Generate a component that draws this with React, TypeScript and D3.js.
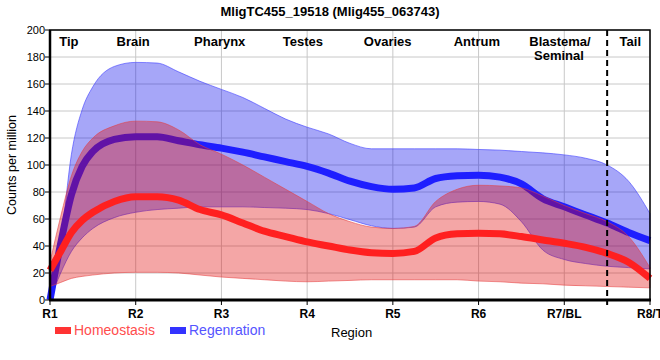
import React from "react";
import * as d3 from "d3";

// positions along the body, in region units (0 = R1 ... 7 = R8/T)
const positions = [0, 0.125, 0.25, 0.375, 0.5, 0.75, 1, 1.25, 1.5, 1.75, 2, 2.25, 2.5, 2.75, 3, 3.25, 3.5, 3.75, 4, 4.25, 4.5, 4.75, 5, 5.25, 5.5, 5.75, 6, 6.25, 6.5, 6.75, 7];

const homeoMean = [22, 36, 50, 59, 65, 73, 76.5, 76.5, 74, 67, 63, 57, 51, 47, 43, 40, 37, 35, 34.5, 36, 46, 49, 49.5, 49, 47, 44.5, 42, 39, 34.5, 28, 16];
const homeoUpper = [28, 62, 92, 110, 120, 129, 132.5, 132, 126, 115, 108, 100, 91, 82, 73, 64, 58, 54, 53, 54.5, 73, 82, 85, 84.5, 83, 77, 70, 64, 58, 47, 24];
const homeoLower = [10, 13, 16, 17.5, 18.5, 20, 20.5, 20.5, 20, 18.5, 17, 16, 15, 14, 13.5, 14, 14.5, 15, 15, 15, 15, 15, 14, 13.5, 12.5, 12, 11, 10.5, 10, 9.5, 9];

const regenMean = [0, 42, 78, 99, 110, 119, 121, 121, 118, 115, 112.5, 109.5, 106, 102.5, 99, 94, 88, 84, 82, 83, 90, 92, 92.5, 91, 86, 75, 69, 63, 57, 50, 44];
const regenUpper = [0, 42, 108, 141, 158, 173, 176, 175.5, 169, 162, 156, 150, 142, 134, 128, 123, 116, 112, 112, 112, 112, 112, 111.5, 111, 110, 109, 107.5, 105, 100, 88, 64];
const regenLower = [0, 20, 36, 46, 53, 61, 65, 67, 68, 69, 69, 69, 68.5, 68, 67, 64, 59.5, 55, 53, 54, 69, 72.5, 73, 71, 58, 37, 30, 27, 25, 24, 23];

const xTicks = ["R1", "R2", "R3", "R4", "R5", "R6", "R7/BL", "R8/T"];
const yTicks = [0, 20, 40, 60, 80, 100, 120, 140, 160, 180, 200];
const regionNames = ["Tip", "Brain", "Pharynx", "Testes", "Ovaries", "Antrum", "Blastema/", "Tail"];
const regionPos = [0.22, 0.97, 1.98, 2.95, 3.94, 4.98, 5.95, 6.77];
const tailBoundary = 6.5;

const W = 660, H = 360;
const margin = { top: 30, right: 10, bottom: 60, left: 50 };
const FONT = "Arial, 'Liberation Sans', sans-serif";

export default function App() {
  const x = d3.scaleLinear().domain([0, 7]).range([margin.left, W - margin.right]);
  const y = d3.scaleLinear().domain([0, 200]).range([H - margin.bottom, margin.top]);

  const band = (lo: number[], hi: number[]) =>
    d3.area<number>()
      .x((d) => x(d))
      .y0((_, i) => y(lo[i]))
      .y1((_, i) => y(hi[i]))
      .curve(d3.curveMonotoneX)(positions) || "";

  const line = (vals: number[]) =>
    d3.line<number>()
      .x((d) => x(d))
      .y((_, i) => y(vals[i]))
      .curve(d3.curveMonotoneX)(positions) || "";

  const x0 = x(0), x1 = x(7), y0 = y(0), y1 = y(200);

  return (
    <svg width={W} height={H} style={{ position: "absolute", left: 0, top: 0, background: "#fff" }} fontFamily={FONT}>
      <text x={330} y={16} textAnchor="middle" fontSize={13} fontWeight="bold">MligTC455_19518 (Mlig455_063743)</text>

      {/* grid */}
      {yTicks.map((t) => (
        <line key={"gy" + t} x1={x0} x2={x1} y1={y(t)} y2={y(t)} stroke="#c8c8c8" strokeWidth={1} />
      ))}
      {xTicks.map((t, i) => (
        <line key={"gx" + t} x1={x(i)} x2={x(i)} y1={y0} y2={y1} stroke="#c8c8c8" strokeWidth={1} />
      ))}

      {/* regeneration band + mean */}
      <path d={band(regenLower, regenUpper)} fill="rgba(0,0,235,0.35)" stroke="rgba(60,60,255,0.6)" strokeWidth={1} />
      <path d={line(regenMean)} fill="none" stroke="#1e1eff" strokeWidth={7} />

      {/* homeostasis band + mean */}
      <path d={band(homeoLower, homeoUpper)} fill="rgba(224,0,0,0.35)" stroke="rgba(230,60,60,0.55)" strokeWidth={1} />
      <path d={line(homeoMean)} fill="none" stroke="#ff2020" strokeWidth={7} />

      {/* tail boundary */}
      <line x1={x(tailBoundary)} x2={x(tailBoundary)} y1={y1} y2={y0 + 5} stroke="#000" strokeWidth={2} strokeDasharray="6,4" />

      {/* frame */}
      <rect x={x0} y={y1} width={x1 - x0} height={y0 - y1} fill="none" stroke="#000" strokeWidth={1.5} />
      <line x1={x0} x2={x0} y1={y1} y2={y0} stroke="#000" strokeWidth={2.5} />
      <line x1={x0 - 1} x2={x1 + 1} y1={y0} y2={y0} stroke="#000" strokeWidth={3} />

      {/* y axis */}
      {yTicks.map((t) => (
        <g key={"ty" + t}>
          <line x1={x0 - 5} x2={x0} y1={y(t)} y2={y(t)} stroke="#000" strokeWidth={1} />
          <text x={x0 - 5} y={y(t)} dy="0.35em" textAnchor="end" fontSize={11}>{t}</text>
        </g>
      ))}
      <text transform={`translate(16,${(y0 + y1) / 2}) rotate(-90)`} textAnchor="middle" fontSize={12.5}>Counts per million</text>

      {/* x axis */}
      {xTicks.map((t, i) => (
        <g key={"tx" + t}>
          <line x1={x(i)} x2={x(i)} y1={y0} y2={y0 + 5} stroke="#000" strokeWidth={1} />
          <text x={x(i)} y={y0 + 18} textAnchor="middle" fontSize={12} fontWeight="bold">{t}</text>
        </g>
      ))}

      {/* region names */}
      {regionNames.map((r, i) => (
        <text key={r} x={x(regionPos[i])} y={46} textAnchor="middle" fontSize={13} fontWeight="bold">{r}</text>
      ))}
      <text x={x(regionPos[6]) - 26} y={60} fontSize={13} fontWeight="bold">Seminal</text>

      {/* legend */}
      <rect x={55} y={327} width={16} height={7} fill="#ff3333" />
      <text x={74} y={335} fontSize={14} fill="#ff4d4d">Homeostasis</text>
      <rect x={170} y={327} width={16} height={7} fill="#3333ff" />
      <text x={189} y={335} fontSize={14} fill="#5555ff">Regenration</text>
      <text x={331} y={337} fontSize={13}>Region</text>
    </svg>
  );
}
